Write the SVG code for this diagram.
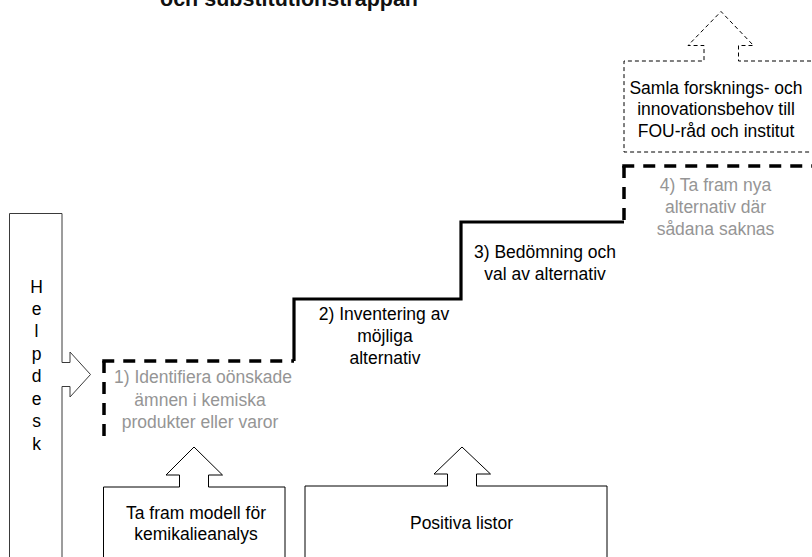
<svg xmlns="http://www.w3.org/2000/svg" width="812" height="557" viewBox="0 0 812 557">
  <style>
    .lbl { font-family: "Liberation Sans", Arial, sans-serif; font-size: 17.5px; fill: #000; text-anchor: middle; }
    .muted { fill: #959595; }
    .title { font-family: "Liberation Sans", Arial, sans-serif; font-size: 21.5px; font-weight: bold; fill: #111; }
    .shape { fill: #fff; stroke: #000; stroke-width: 1; }
    .soft { fill: #fff; stroke: #3a3a3a; stroke-width: 1; }
    .open { fill: #fff; stroke: #000; stroke-width: 1; stroke-dasharray: 4 3; }
    .stairDash { fill: none; stroke: #000; stroke-width: 3.5; stroke-dasharray: 12 9; }
    .stairSolid { fill: none; stroke: #000; stroke-width: 3.2; stroke-linejoin: miter; }
  </style>
  <rect width="812" height="557" fill="#fff"/>

  <text class="title" x="160" y="6">och substitutionstrappan</text>

  <!-- Staircase -->
  <g id="connectors">
    <path class="stairDash" d="M104,361 V441"/>
    <path class="stairDash" d="M102.25,361 H294"/>
    <path class="stairSolid" d="M294,361 V299 H461 V222 H624"/>
    <path class="stairDash" d="M624,166 V222"/>
    <path class="stairDash" d="M622.25,166 H812"/>
  </g>

  <g id="helpdesk">
    <path class="soft" d="M9.5,600 V213.5 H62 V362.5 H70 V352 L90.5,374.5 L70,397 V386.5 H62 V600"/>
    <g class="lbl">
      <text x="36.5" y="293">H</text>
      <text x="36.5" y="315">e</text>
      <text x="36.5" y="337">l</text>
      <text x="36.5" y="360">p</text>
      <text x="36.5" y="382">d</text>
      <text x="36.5" y="405">e</text>
      <text x="36.5" y="427">s</text>
      <text x="36.5" y="450">k</text>
    </g>
  </g>

  <g id="step1">
    <text class="lbl muted" x="203" y="383">1) Identifiera oönskade</text>
    <text class="lbl muted" x="200" y="405.5">ämnen i kemiska</text>
    <text class="lbl muted" x="200" y="428">produkter eller varor</text>
  </g>

  <g id="step2">
    <text class="lbl" x="384" y="320">2) Inventering av</text>
    <text class="lbl" x="385" y="342">möjliga</text>
    <text class="lbl" x="385" y="364">alternativ</text>
  </g>

  <g id="step3">
    <text class="lbl" x="545" y="257.5">3) Bedömning och</text>
    <text class="lbl" x="545" y="279.5">val av alternativ</text>
  </g>

  <g id="step4">
    <text class="lbl muted" x="715.5" y="191">4) Ta fram nya</text>
    <text class="lbl muted" x="715.5" y="213">alternativ där</text>
    <text class="lbl muted" x="715.5" y="235">sådana saknas</text>
  </g>

  <g id="research">
    <path class="open" d="M818,61 H738.5 V45.5 H753.5 L721,11.5 L688,45.5 H704 V61 H624 V152 H818"/>
    <text class="lbl" x="716" y="93.5">Samla forsknings- och</text>
    <text class="lbl" x="716" y="115">innovationsbehov till</text>
    <text class="lbl" x="716" y="136.5">FOU-råd och institut</text>
  </g>

  <g id="model">
    <path class="shape" d="M103.5,600 V487 H179.5 V475 H166 L194,447 L222.5,475 H208.5 V487 H285 V600"/>
    <text class="lbl" x="196" y="518.5">Ta fram modell för</text>
    <text class="lbl" x="196" y="540">kemikalieanalys</text>
  </g>

  <g id="positive">
    <path class="shape" d="M305,600 V486 H447.5 V474 H434 L462,447 L490.5,474 H476.5 V486 H607 V600"/>
    <text class="lbl" x="461.5" y="528.5">Positiva listor</text>
  </g>
</svg>
